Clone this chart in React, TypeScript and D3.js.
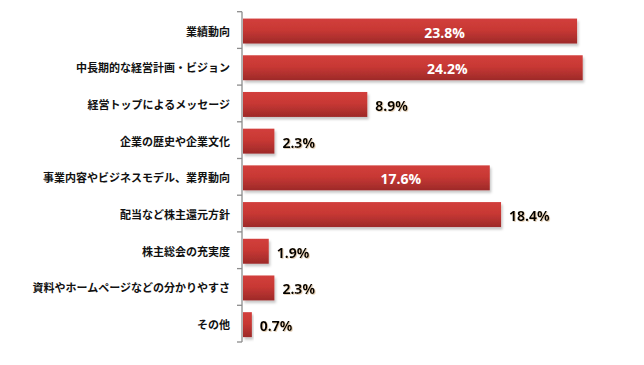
import { useEffect, useRef } from 'react';
import * as d3 from 'd3';

// Categories (top to bottom)
const categories = [
    '業績動向',
    '中長期的な経営計画・ビジョン',
    '経営トップによるメッセージ',
    '企業の歴史や企業文化',
    '事業内容やビジネスモデル、業界動向',
    '配当など株主還元方針',
    '株主総会の充実度',
    '資料やホームページなどの分かりやすさ',
    'その他',
];

// Share in percent
const values = [23.8, 24.2, 8.9, 2.3, 17.6, 18.4, 1.9, 2.3, 0.7];

// Labels shown inside the bar (white) vs. after it (black)
const insideLabel = [true, true, false, false, true, false, false, false, false];

export default function App() {
    let ref = useRef<SVGSVGElement>(null);

    useEffect(() => {
        const svg = d3.select(ref.current);
        svg.selectAll('*').remove();

        const width = 644, height = 365;
        const margin = { top: 11.7, left: 242, bottom: 23 };
        const plotH = 342 - margin.top;

        const y = d3.scaleBand<string>()
            .domain(categories)
            .range([margin.top, margin.top + plotH])
            .paddingInner(0.32)
            .paddingOuter(0.16);

        const x = d3.scaleLinear().domain([0, 24.2]).range([margin.left, 582.7]);

        const defs = svg.append('defs');
        const grad = defs.append('linearGradient')
            .attr('id', 'barGrad')
            .attr('x1', 0).attr('y1', 0).attr('x2', 0).attr('y2', 1);
        grad.append('stop').attr('offset', '0%').attr('stop-color', '#d23f3c');
        grad.append('stop').attr('offset', '45%').attr('stop-color', '#c83834');
        grad.append('stop').attr('offset', '100%').attr('stop-color', '#9d2a29');

        const shadow = defs.append('filter').attr('id', 'barShadow')
            .attr('x', '-5%').attr('y', '-20%').attr('width', '120%').attr('height', '160%');
        shadow.append('feDropShadow')
            .attr('dx', 1.5).attr('dy', 2.5).attr('stdDeviation', 1.2)
            .attr('flood-color', '#000').attr('flood-opacity', 0.22);

        const glow = defs.append('filter').attr('id', 'textGlow')
            .attr('x', '-10%').attr('y', '-20%').attr('width', '130%').attr('height', '150%');
        glow.append('feDropShadow')
            .attr('dx', 0.8).attr('dy', 0.8).attr('stdDeviation', 0.6)
            .attr('flood-color', '#c8a070').attr('flood-opacity', 0.6);

        // Bars
        svg.append('g')
            .selectAll('rect')
            .data(values)
            .join('rect')
            .attr('x', x(0) + 1)
            .attr('y', (_, i) => y(categories[i])! + 1)
            .attr('width', d => x(d) - x(0) - 1)
            .attr('height', y.bandwidth())
            .attr('fill', 'url(#barGrad)')
            .attr('filter', 'url(#barShadow)');

        // Axis
        const axis = svg.append('g')
            .attr('transform', `translate(${margin.left}, 0)`);
        const edges = categories.map(c => y(c)! - (y.step() * y.paddingInner()) / 2).concat([margin.top + plotH]);
        axis.append('line')
            .attr('x1', 0).attr('x2', 0)
            .attr('y1', margin.top).attr('y2', margin.top + plotH)
            .attr('stroke', '#8c8c8c').attr('stroke-width', 1.3);
        axis.selectAll('line.tick')
            .data(edges)
            .join('line')
            .attr('class', 'tick')
            .attr('x1', -5).attr('x2', 0)
            .attr('y1', d => d).attr('y2', d => d)
            .attr('stroke', '#8c8c8c').attr('stroke-width', 1.3);

        // Category labels
        svg.append('g')
            .selectAll('text')
            .data(categories)
            .join('text')
            .attr('x', 230)
            .attr('y', d => y(d)! + y.bandwidth() / 2 + 0.5)
            .attr('text-anchor', 'end')
            .attr('dominant-baseline', 'central')
            .attr('font-family', '"Noto Sans CJK JP", sans-serif')
            .attr('font-weight', 'bold')
            .attr('font-size', 11)
            .attr('fill', '#111')
            .text(d => d);

        // Value labels
        svg.append('g')
            .selectAll('text')
            .data(values)
            .join('text')
            .attr('x', (d, i) => insideLabel[i] ? (x(0) + x(d)) / 2 + 35 : x(d) + 8)
            .attr('y', (_, i) => y(categories[i])! + y.bandwidth() / 2 + 2)
            .attr('text-anchor', (_, i) => insideLabel[i] ? 'middle' : 'start')
            .attr('dominant-baseline', 'central')
            .attr('font-family', '"Open Sans", sans-serif')
            .attr('font-weight', 'bold')
            .attr('font-size', 14)
            .attr('fill', (_, i) => insideLabel[i] ? '#ffffff' : '#000000')
            .attr('filter', (_, i) => insideLabel[i] ? null : 'url(#textGlow)')
            .text(d => `${d.toFixed(1)}%`);

        svg.attr('width', width).attr('height', height);
    }, []);

    return (
        <svg ref={ref} width={644} height={365}
            style={{ position: 'absolute', left: 0, top: 0, background: '#fff' }} />
    );
}
